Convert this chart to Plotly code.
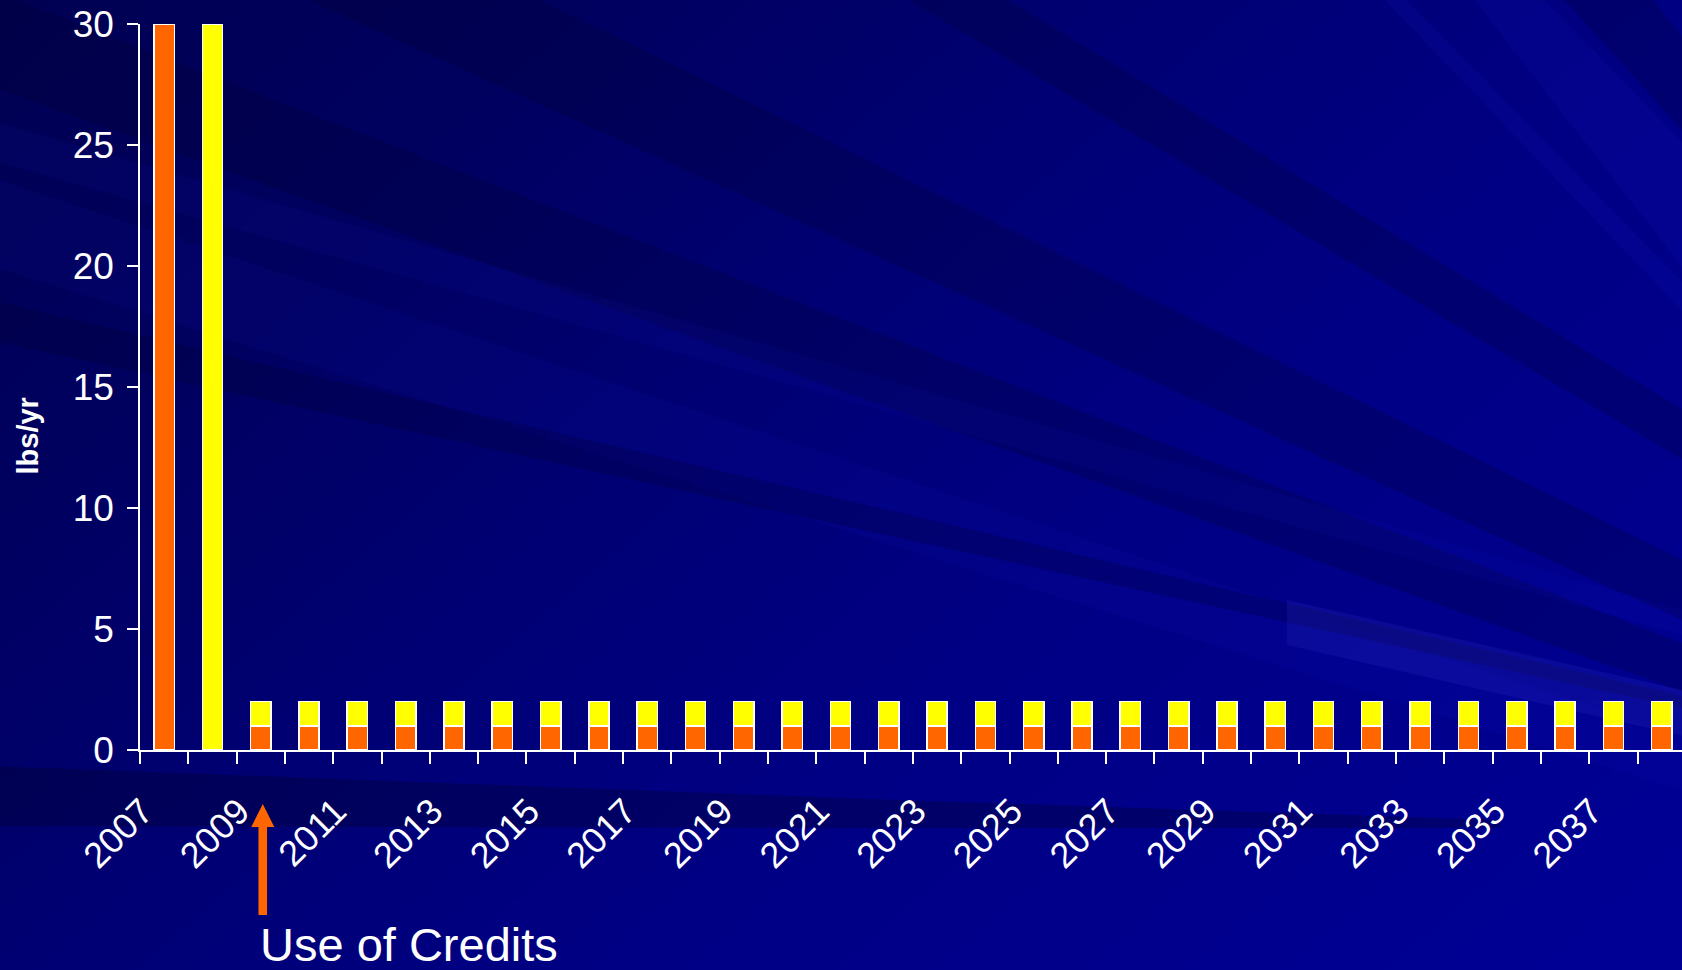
import plotly.graph_objects as go

# ---------------- data ----------------
years = [2007, 2008, 2009, 2010, 2011, 2012, 2013, 2014, 2015, 2016, 2017, 2018,
         2019, 2020, 2021, 2022, 2023, 2024, 2025, 2026, 2027, 2028, 2029, 2030,
         2031, 2032, 2033, 2034, 2035, 2036, 2037, 2038]
orange_vals = [30, None, 1, 1, 1, 1, 1, 1, 1, 1, 1, 1,
               1, 1, 1, 1, 1, 1, 1, 1, 1, 1, 1, 1,
               1, 1, 1, 1, 1, 1, 1, 1]
yellow_vals = [None, 30, 1, 1, 1, 1, 1, 1, 1, 1, 1, 1,
               1, 1, 1, 1, 1, 1, 1, 1, 1, 1, 1, 1,
               1, 1, 1, 1, 1, 1, 1, 1]
label_years = [2007, 2009, 2011, 2013, 2015, 2017, 2019, 2021, 2023, 2025,
               2027, 2029, 2031, 2033, 2035, 2037]
y_ticks = [0, 5, 10, 15, 20, 25, 30]
y_title = "lbs/yr"
note_text = "Use of Credits"
note_year = 2009

# ---------------- layout constants ----------------
W, H = 1682, 970
ML, MR, MT, MB = 140, 0, 24, 220
PW, PH = W - ML - MR, H - MT - MB
X_RANGE = [2006.5, 2038.42]
FONT = "Liberation Sans, Arial, sans-serif"
ORANGE = "#FF6600"
YELLOW = "#FFFF00"
LABEL_SHIFT = -0.45  # rotated labels sit slightly left of the bar centre

fig = go.Figure()
fig.add_trace(go.Bar(x=years, y=orange_vals, width=0.42,
                     marker=dict(color=ORANGE, line=dict(color="white", width=1.5)),
                     showlegend=False))
fig.add_trace(go.Bar(x=years, y=yellow_vals, width=0.42,
                     marker=dict(color=YELLOW, line=dict(color="white", width=1.5)),
                     showlegend=False))


# ---------------- background decoration ----------------
def pp(x, y):
    return (x - ML) / PW, (MT + PH - y) / PH


def poly(pts):
    s = ""
    for i, (x, y) in enumerate(pts):
        px, py = pp(x, y)
        s += ("M" if i == 0 else "L") + f"{px:.5f},{py:.5f} "
    return s + "Z"


shapes = []


def blue_at(s):
    pts = [(-100, 0x50), (600, 0x60), (1100, 0x72), (1700, 0x84), (2900, 0x98)]
    for (a, ca), (b, cb) in zip(pts, pts[1:]):
        if s <= b:
            t = max(0.0, (s - a) / (b - a))
            return int(ca + (cb - ca) * t)
    return pts[-1][1]


k = 1.15
step = 50
s = -100
while s < 2950:
    s0, s1 = s, s + step + 2
    c = blue_at(s + step / 2)
    shapes.append(dict(type="path", xref="paper", yref="paper", layer="below",
                       path=poly([(s0 + 23, -20), (s1 + 23, -20),
                                  (s1 - k * 990, 990), (s0 - k * 990, 990)]),
                       fillcolor=f"rgb(0,0,{c})", line=dict(width=0)))
    s += step

dark = "rgba(0,0,40,0.22)"
light = "rgba(30,30,230,0.07)"
bands = [
    ([(-10, -270), (1700, 568), (1700, 628), (-10, -144)], dark),
    ([(-10, -10), (1700, 650), (1700, 698), (-10, 86)], dark),
    ([(-10, 177), (1700, 742), (1700, 796), (-10, 266)], light),
    ([(-10, 120), (1700, 615), (1700, 640), (-10, 160)], light),
    ([(-10, 300), (1700, 700), (1700, 712), (-10, 340)], dark),
    ([(1287, 600), (1700, 694), (1700, 740), (1287, 645)], "rgba(70,70,230,0.14)"),
    ([(1380, -5), (1402, -5), (1700, 300), (1700, 330)], "rgba(30,30,230,0.10)"),
    ([(1470, -5), (1540, -5), (1700, 160), (1700, 290)], "rgba(30,30,230,0.10)"),
    ([(1560, -5), (1650, -5), (1700, 60), (1700, 150)], dark),
    ([(900, -5), (1000, -5), (1700, 420), (1700, 470)], dark),
    ([(-10, 766), (900, 800), (1500, 820), (1500, 828), (900, 828), (-10, 826)],
     "rgba(0,0,30,0.28)"),
]
for pts, col in bands:
    shapes.append(dict(type="path", xref="paper", yref="paper", layer="below",
                       path=poly(pts), fillcolor=col, line=dict(width=0)))

# x-axis line extension to the left of the y axis
shapes.append(dict(type="line", xref="paper", yref="y", x0=-12 / PW, x1=0, y0=0, y1=0,
                   line=dict(color="white", width=1.5)))

# orange block arrow under the note year (paper coords derived from the axis range)
ax_px = ML + (note_year - X_RANGE[0]) / (X_RANGE[1] - X_RANGE[0]) * PW + 2
y0_px = MT + PH
arrow_pts = [(ax_px - 4.3, y0_px + 165), (ax_px + 4.3, y0_px + 165),
             (ax_px + 4.3, y0_px + 77), (ax_px + 11.5, y0_px + 77),
             (ax_px, y0_px + 54), (ax_px - 11.5, y0_px + 77),
             (ax_px - 4.3, y0_px + 77)]
shapes.append(dict(type="path", xref="paper", yref="paper", layer="above",
                   path=poly(arrow_pts), fillcolor=ORANGE, line=dict(width=0)))

annotations = [
    dict(text=f"<b>{y_title}</b>", xref="paper", yref="paper",
         x=pp(27.5, 0)[0], y=pp(0, 436)[1], textangle=-90, showarrow=False,
         xanchor="center", yanchor="middle",
         font=dict(family=FONT, size=29, color="white")),
    dict(text=note_text, xref="x", yref="paper", x=note_year, y=pp(0, 944)[1],
         xanchor="left", yanchor="middle", xshift=-3, showarrow=False,
         font=dict(family=FONT, size=47, color="white")),
]

fig.update_layout(
    width=W, height=H,
    margin=dict(l=ML, r=MR, t=MT, b=MB, pad=0),
    paper_bgcolor="#000078",
    plot_bgcolor="rgba(0,0,0,0)",
    barmode="stack",
    shapes=shapes,
    annotations=annotations,
    font=dict(family=FONT, color="white"),
    showlegend=False,
)
fig.update_xaxes(
    type="linear", range=X_RANGE,
    tickmode="array", tickvals=[v + LABEL_SHIFT for v in label_years],
    ticktext=[str(v) for v in label_years],
    tickangle=-45, ticks="", showgrid=False, zeroline=False,
    showline=True, linecolor="white", linewidth=1.5,
    tickfont=dict(family=FONT, size=36, color="white"), ticklabelstandoff=24,
    minor=dict(ticks="outside", ticklen=12, tickcolor="white", tickwidth=1.5,
               tickvals=[y - 0.5 for y in years], showgrid=False),
)
fig.update_yaxes(
    range=[0, 30], tickmode="array", tickvals=y_ticks,
    ticks="outside", ticklen=11, tickcolor="white", tickwidth=1.5,
    showgrid=False, zeroline=False, showline=True, linecolor="white", linewidth=1.5,
    tickfont=dict(family=FONT, size=37, color="white"), ticklabelstandoff=6,
)

fig.write_html("out.html")
